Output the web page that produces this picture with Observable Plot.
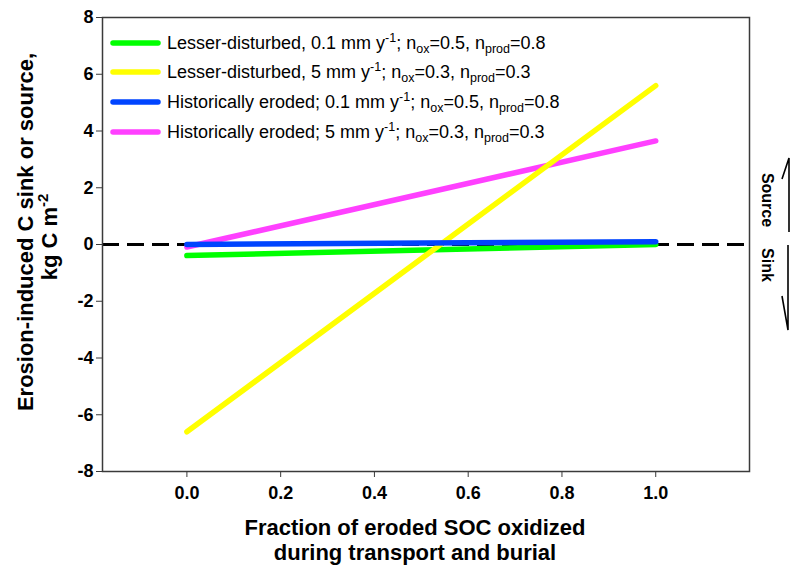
<!DOCTYPE html>
<html><head><meta charset="utf-8">
<script src="https://cdn.jsdelivr.net/npm/d3@7"></script>
<script src="https://cdn.jsdelivr.net/npm/@observablehq/plot@0.6"></script>
<style>
body{margin:0;background:#fff}
#wrap{position:relative;width:790px;height:565px;overflow:hidden;background:#fff}
#wrap svg{position:absolute;left:0;top:0}
#wrap g[aria-label="x-axis tick label"], #wrap g[aria-label="y-axis tick label"]{font-size:18px !important;font-weight:bold}
</style>
</head><body><div id="wrap"></div>
<script>
// ---- data ----
const xVals = [0, 1];
const greenVals = [-0.39, 0.0];     // Lesser-disturbed, 0.1 mm/y
const yellowVals = [-6.6, 5.6];     // Lesser-disturbed, 5 mm/y
const blueVals = [0.0, 0.1];        // Historically eroded, 0.1 mm/y
const magentaVals = [-0.09, 3.65];  // Historically eroded, 5 mm/y
const seriesLabels = [
  ["Lesser-disturbed, 0.1 mm y", "-1", "; n", "ox", "=0.5, n", "prod", "=0.8"],
  ["Lesser-disturbed, 5 mm y", "-1", "; n", "ox", "=0.3, n", "prod", "=0.3"],
  ["Historically eroded; 0.1 mm y", "-1", "; n", "ox", "=0.5, n", "prod", "=0.8"],
  ["Historically eroded; 5 mm y", "-1", "; n", "ox", "=0.3, n", "prod", "=0.3"]
];
const seriesColors = ["#00ff00", "#ffff00", "#0044ff", "#ff40ff"];
const xTicks = [0, 0.2, 0.4, 0.6, 0.8, 1.0];
const yTicks = [-8, -6, -4, -2, 0, 2, 4, 6, 8];
const xTitle = ["Fraction of eroded SOC oxidized", "during transport and burial"];
const yTitle1 = "Erosion-induced C sink or source,";
const yTitle2 = ["kg C m", "-2"];

const seriesVals = [greenVals, yellowVals, blueVals, magentaVals];
const toRows = vals => xVals.map((x, i) => ({x, y: vals[i]}));
// draw order: green, magenta, yellow, blue
const drawOrder = [0, 3, 1, 2];

const font = "'Liberation Sans', Arial, sans-serif";

const chart = Plot.plot({
  width: 790, height: 565,
  marginTop: 17, marginLeft: 102, marginRight: 41, marginBottom: 94,
  style: {fontFamily: font, background: "white", color: "#000"},
  x: {domain: [-0.18, 1.2]},
  y: {domain: [-8, 8]},
  marks: [
    Plot.ruleY([0], {stroke: "#000", strokeWidth: 3, strokeDasharray: "17,8"}),
    ...drawOrder.map(i => Plot.line(toRows(seriesVals[i]), {
      x: "x", y: "y", stroke: seriesColors[i], strokeWidth: 5.5, strokeLinecap: "round"
    })),
    Plot.frame({stroke: "#3a3a3a", strokeWidth: 1.5}),
    Plot.axisX({ticks: xTicks, tickSize: 6, tickPadding: 9, tickFormat: d => d.toFixed(1),
      label: null, fontSize: 18, fontWeight: "bold", stroke: "#3a3a3a"}),
    Plot.axisY({ticks: yTicks, tickSize: 6, tickPadding: 3, tickFormat: d => String(d),
      label: null, fontSize: 18, fontWeight: "bold", stroke: "#3a3a3a"})
  ]
});
const wrap = document.getElementById("wrap");
wrap.appendChild(chart);

// ---- overlay: titles, legend, source/sink annotation ----
const ov = d3.select(wrap).append("svg")
  .attr("width", 790).attr("height", 565)
  .style("font-family", font);

// y title
ov.append("text").attr("transform", "translate(33,232) rotate(-90)")
  .attr("text-anchor", "middle").attr("font-size", 22).attr("font-weight", "bold")
  .text(yTitle1);
const yt2 = ov.append("text").attr("transform", "translate(57,237) rotate(-90)")
  .attr("text-anchor", "middle").attr("font-size", 22).attr("font-weight", "bold");
yt2.append("tspan").text(yTitle2[0]);
yt2.append("tspan").attr("dy", -9).attr("font-size", 15).text(yTitle2[1]);

// x title
xTitle.forEach((t, i) => {
  ov.append("text").attr("x", 415).attr("y", 535 + i * 25)
    .attr("text-anchor", "middle").attr("font-size", 22).attr("font-weight", "bold").text(t);
});

// legend
const rowY = [43, 72, 102, 132];
seriesLabels.forEach((parts, i) => {
  const cy = rowY[i];
  ov.append("line").attr("x1", 113).attr("x2", 158).attr("y1", cy).attr("y2", cy)
    .attr("stroke", seriesColors[i]).attr("stroke-width", 5.5).attr("stroke-linecap", "round");
  const t = ov.append("text").attr("x", 167).attr("y", cy + 6).attr("font-size", 18);
  t.append("tspan").text(parts[0]);
  t.append("tspan").attr("dy", -7).attr("font-size", 12.5).text(parts[1]);
  t.append("tspan").attr("dy", 7).text(parts[2]);
  t.append("tspan").attr("dy", 4).attr("font-size", 12.5).text(parts[3]);
  t.append("tspan").attr("dy", -4).text(parts[4]);
  t.append("tspan").attr("dy", 4).attr("font-size", 12.5).text(parts[5]);
  t.append("tspan").attr("dy", -4).text(parts[6]);
});

// source / sink annotation
ov.append("text").attr("transform", "translate(762,200) rotate(90)")
  .attr("text-anchor", "middle").attr("font-size", 16).attr("font-weight", "bold").text("Source");
ov.append("text").attr("transform", "translate(762,265) rotate(90)")
  .attr("text-anchor", "middle").attr("font-size", 16).attr("font-weight", "bold").text("Sink");
const arrow = [
  [[789, 232], [789, 158], [782, 179]],
  [[788, 245], [788, 330], [782, 296]]
];
arrow.forEach(pts => {
  ov.append("path").attr("d", d3.line()(pts)).attr("fill", "none")
    .attr("stroke", "#000").attr("stroke-width", 1.6);
});
</script>
</body></html>
